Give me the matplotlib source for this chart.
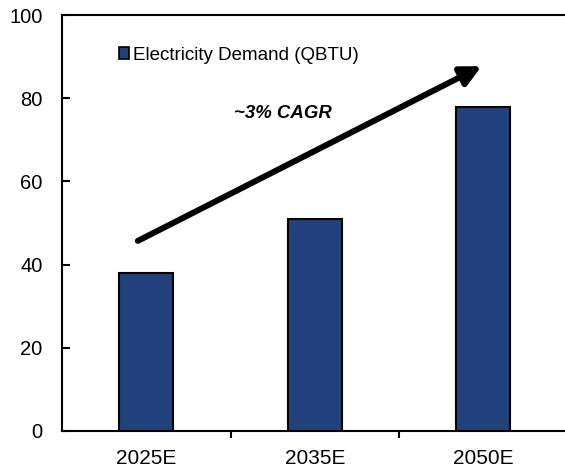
import matplotlib.pyplot as plt
from matplotlib.patches import Patch

plt.rcParams['font.family'] = ['Liberation Sans', 'DejaVu Sans']

# electricity demand by scenario year
years = ['2025E', '2035E', '2050E']
demand = [38, 51, 78]

bar_color = '#23417B'

fig = plt.figure(figsize=(5.65, 4.68), dpi=100)
ax = fig.add_axes([62 / 565, 37 / 468, 505.5 / 565, 416 / 468])

x = list(range(len(years)))
ax.bar(x, demand, width=0.32, color=bar_color, edgecolor='black', linewidth=1.5)

ax.set_xlim(-0.5, 2.5)
ax.set_ylim(0, 100)
ax.set_yticks([0, 20, 40, 60, 80, 100])
ax.set_xticks(x)
ax.set_xticklabels(years)
ax.set_xticks([0.5, 1.5], minor=True)

ax.tick_params(axis='y', direction='in', length=6, width=1.5, pad=14, labelsize=14.5)
ax.tick_params(axis='x', which='major', length=0, pad=13, labelsize=15)
ax.tick_params(axis='x', which='minor', direction='out', length=5, width=1.5)

for side in ['left', 'bottom', 'top']:
    ax.spines[side].set_linewidth(1.5)
ax.spines['right'].set_visible(False)

# growth arrow with label
ax.annotate('', xy=(1.99, 87.7), xytext=(-0.05, 45.7),
            arrowprops=dict(arrowstyle='-|>', lw=4.3, color='black',
                            mutation_scale=30, shrinkA=0, shrinkB=0))
ax.text(0.81, 76.4, '~3% CAGR', fontsize=13.4, fontweight='bold', fontstyle='italic',
        ha='center', va='center')

handle = Patch(facecolor=bar_color, edgecolor='black', linewidth=1.2)
ax.legend([handle], ['Electricity Demand (QBTU)'], loc='center left',
          bbox_to_anchor=(119 / 565, 1 - 55 / 468), bbox_transform=fig.transFigure,
          frameon=False, fontsize=13.5, handlelength=0.55, handleheight=0.55,
          handletextpad=0.2, borderpad=0, borderaxespad=0)

fig.savefig('out.png', dpi=100)
